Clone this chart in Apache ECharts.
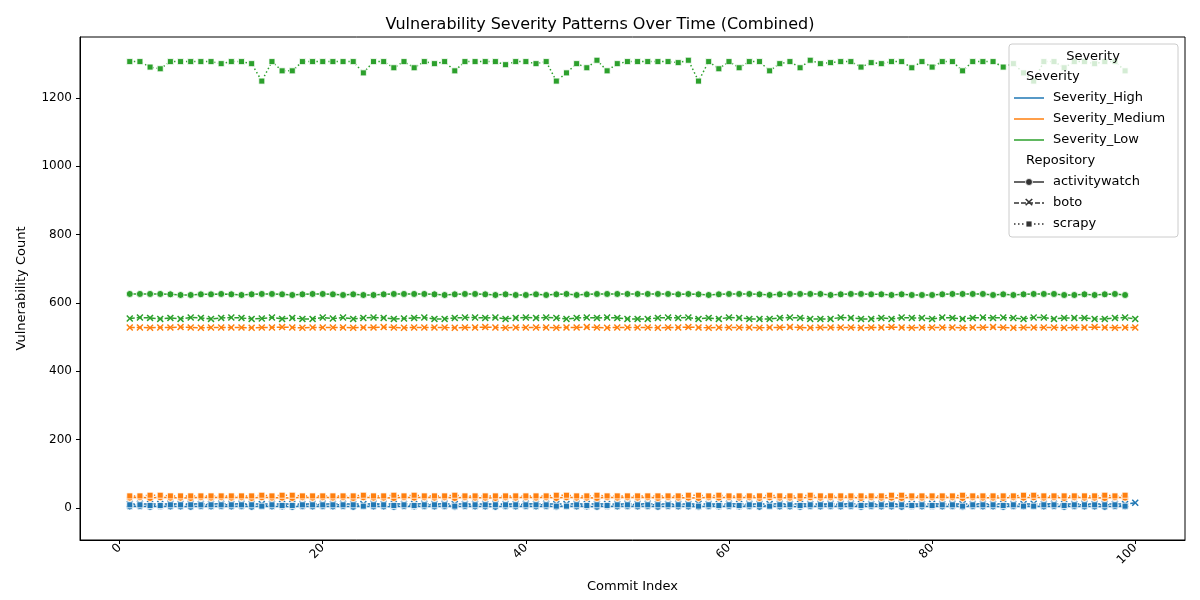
<!DOCTYPE html>
<html>
<head>
<meta charset="utf-8">
<script src="https://cdn.jsdelivr.net/npm/echarts@6/dist/echarts.min.js"></script>
<style>html,body{margin:0;padding:0;background:#fff}#main{width:1200px;height:600px}</style>
</head>
<body>
<div id="main"></div>
<script>
// values per repository, index 0 = commit 1
const lowScrapy = [1306,1306,1290,1285,1306,1306,1306,1306,1306,1300,
  1306,1306,1300,1249,1306,1279,1279,1306,1306,1306,
  1306,1306,1306,1273,1306,1306,1288,1306,1288,1306,
  1300,1306,1279,1306,1306,1306,1306,1297,1306,1306,
  1300,1306,1249,1273,1300,1288,1310,1279,1300,1306,
  1306,1306,1306,1306,1303,1310,1249,1306,1285,1306,
  1288,1306,1306,1279,1300,1306,1288,1310,1300,1303,
  1306,1306,1290,1303,1300,1306,1306,1288,1306,1290,
  1306,1306,1279,1306,1306,1306,1290,1300,1273,1249,
  1306,1306,1288,1306,1306,1300,1306,1306,1279];
const lowActivity = [626,626,626,626,625,623,623,625,625,626,
  625,623,625,626,626,625,623,625,626,626,
  625,623,625,623,623,625,626,626,626,626,
  625,623,625,626,626,625,623,625,623,623,
  625,623,625,626,623,625,626,626,626,626,
  626,626,626,626,625,626,625,623,625,626,
  626,626,625,623,625,626,626,626,626,623,
  625,626,626,625,625,623,625,623,623,623,
  625,626,626,626,626,623,625,623,625,626,
  626,626,623,623,625,623,625,626,623];
const lowBoto = [554,557,556,553,556,553,557,556,553,556,
  557,556,553,554,557,553,556,553,553,557,
  554,557,553,556,557,556,553,554,556,557,
  553,553,556,557,557,556,557,553,556,557,
  556,557,556,553,556,557,556,557,556,553,
  553,553,556,557,556,557,553,556,553,557,
  556,553,553,553,556,557,556,553,553,553,
  557,556,553,553,556,553,557,556,556,553,
  557,556,553,556,557,556,557,556,553,557,
  557,553,556,556,556,553,553,556,557,553];
const medActivity = Array.from({length:99}, (_, i) => [30,31,29,31,30,30,29,31,30,31][i % 10]);
const medBoto = Array.from({length:100}, (_, i) => [528,528,527,528,528,529,528,527,528,528][i % 10]);
const medScrapy = [35,35,37,37,35,35,35,35,35,35,35,35,35,37,35,37,37,35,35,35,
  35,35,35,37,35,35,37,35,37,35,35,35,37,35,35,35,35,35,35,35,
  35,35,37,37,35,35,37,35,35,35,35,35,35,35,35,37,37,35,37,35,
  35,35,35,37,35,35,35,37,35,35,35,35,35,35,35,37,37,35,35,35,
  35,35,37,35,35,35,35,35,37,37,35,35,35,35,35,35,37,35,37];
const highActivity = Array.from({length:99}, (_, i) => [4,5,3,5,4,4,3,5,4,5][i % 10]);
const highBoto = Array.from({length:100}, (_, i) => i === 99 ? 15 : [11,12,11,11,12,11,12,11,11,12][i % 10]);
const highScrapy = [9,9,7,7,9,9,9,9,9,9,9,9,9,5,9,7,7,9,9,9,
  9,9,9,5,9,9,7,9,7,9,9,9,5,9,9,9,9,9,9,9,
  9,9,5,5,9,7,9,7,9,9,9,9,9,9,9,9,5,9,7,9,
  7,9,9,5,9,9,7,9,9,9,9,9,7,9,9,9,9,7,9,7,
  9,9,5,9,9,9,7,9,5,5,9,9,7,9,9,9,9,9,5];

const xTicks = [0, 20, 40, 60, 80, 100];
const yTicks = [0, 200, 400, 600, 800, 1000, 1200];

const colors = {High: '#1f77b4', Medium: '#ff7f0e', Low: '#2ca02c'};
const xShape = 'path://M0,3 L3,0 L10,7 L17,0 L20,3 L13,10 L20,17 L17,20 L10,13 L3,20 L0,17 L7,10 Z';
const repoStyle = {
  activitywatch: {symbol: 'circle', size: 7, type: 'solid', border: 0.8},
  boto: {symbol: xShape, size: 7, type: [5, 2], border: 0},
  scrapy: {symbol: 'rect', size: 6, type: [1.5, 2.5], border: 0.8}
};

function mk(sev, repo, vals) {
  const st = repoStyle[repo];
  return {
    name: 'Severity_' + sev + ' ' + repo, type: 'line',
    data: vals.map((v, i) => [i + 1, v]),
    symbol: st.symbol, symbolSize: st.size, showSymbol: true,
    lineStyle: {color: colors[sev], width: 1.5, type: st.type},
    itemStyle: {color: colors[sev], borderColor: '#fff', borderWidth: st.border},
    z: 3
  };
}

const series = [
  mk('High', 'activitywatch', highActivity), mk('High', 'boto', highBoto), mk('High', 'scrapy', highScrapy),
  mk('Medium', 'activitywatch', medActivity), mk('Medium', 'boto', medBoto), mk('Medium', 'scrapy', medScrapy),
  mk('Low', 'activitywatch', lowActivity), mk('Low', 'boto', lowBoto), mk('Low', 'scrapy', lowScrapy)
];

// seaborn style legend drawn by hand
const lg = [];
lg.push({type: 'rect', shape: {x: 1009, y: 44, width: 169, height: 193, r: 3},
  style: {fill: 'rgba(255,255,255,0.8)', stroke: '#ccc', lineWidth: 1}, z: 10});
const txt = (x, y, s, align) => ({type: 'text', x: x, y: y, z: 11,
  style: {text: s, fill: '#000', font: '13px "DejaVu Sans"', textAlign: align || 'left', textVerticalAlign: 'middle'}});
lg.push(txt(1093, 57, 'Severity', 'center'));
const rows = [
  {t: 'Severity', head: true}, {t: 'Severity_High', c: colors.High}, {t: 'Severity_Medium', c: colors.Medium},
  {t: 'Severity_Low', c: colors.Low}, {t: 'Repository', head: true},
  {t: 'activitywatch', r: 'activitywatch'}, {t: 'boto', r: 'boto'}, {t: 'scrapy', r: 'scrapy'}
];
rows.forEach((row, i) => {
  const y = 77 + i * 21;
  if (row.head) { lg.push(txt(1026, y, row.t)); return; }
  lg.push(txt(1053, y, row.t));
  if (row.c) {
    lg.push({type: 'line', z: 11, shape: {x1: 1014, y1: y, x2: 1044, y2: y}, style: {stroke: row.c, lineWidth: 1.5}});
  } else {
    const st = repoStyle[row.r];
    lg.push({type: 'line', z: 11, shape: {x1: 1014, y1: y, x2: 1044, y2: y},
      style: {stroke: '#333', lineWidth: 1.5, lineDash: st.type === 'solid' ? null : st.type}});
    if (row.r === 'activitywatch') lg.push({type: 'circle', z: 12, shape: {cx: 1029, cy: y, r: 3.5}, style: {fill: '#333', stroke: '#fff', lineWidth: 0.8}});
    if (row.r === 'boto') lg.push({type: 'text', z: 12, x: 1029, y: y, style: {text: '×', fill: '#333', font: 'bold 13px "DejaVu Sans"', textAlign: 'center', textVerticalAlign: 'middle'}});
    if (row.r === 'scrapy') lg.push({type: 'rect', z: 12, shape: {x: 1026, y: y - 3, width: 6, height: 6}, style: {fill: '#333', stroke: '#fff', lineWidth: 0.8}});
  }
});

const chart = echarts.init(document.getElementById('main'));
chart.setOption({
  animation: false,
  textStyle: {fontFamily: 'DejaVu Sans'},
  title: {text: 'Vulnerability Severity Patterns Over Time (Combined)', left: 'center', top: 12,
    textStyle: {fontSize: 16, fontWeight: 'normal', color: '#000'}},
  grid: {left: 80, right: 15, top: 37, bottom: 60},
  xAxis: {
    type: 'value', min: -3.9, max: 104.9,
    name: 'Commit Index', nameLocation: 'middle', nameGap: 40, nameTextStyle: {fontSize: 13, color: '#000'},
    axisLine: {onZero: false, lineStyle: {color: '#000'}},
    axisTick: {show: true, length: 4, customValues: xTicks, lineStyle: {color: '#000'}},
    axisLabel: {customValues: xTicks, rotate: 45, color: '#000', fontSize: 12, margin: 6},
    splitLine: {show: false}
  },
  yAxis: {
    type: 'value', min: -94, max: 1378,
    name: 'Vulnerability Count', nameLocation: 'middle', nameGap: 52, nameTextStyle: {fontSize: 13, color: '#000'},
    axisLine: {show: true, onZero: false, lineStyle: {color: '#000'}},
    axisTick: {show: true, length: 4, customValues: yTicks, lineStyle: {color: '#000'}},
    axisLabel: {customValues: yTicks, color: '#000', fontSize: 12, formatter: v => String(v)},
    splitLine: {show: false}
  },
  graphic: [
    {type: 'rect', shape: {x: 80, y: 37, width: 1105, height: 503}, style: {fill: 'none', stroke: '#000', lineWidth: 1}, z: 5, silent: true},
    ...lg
  ],
  series: series
});
</script>
</body>
</html>
